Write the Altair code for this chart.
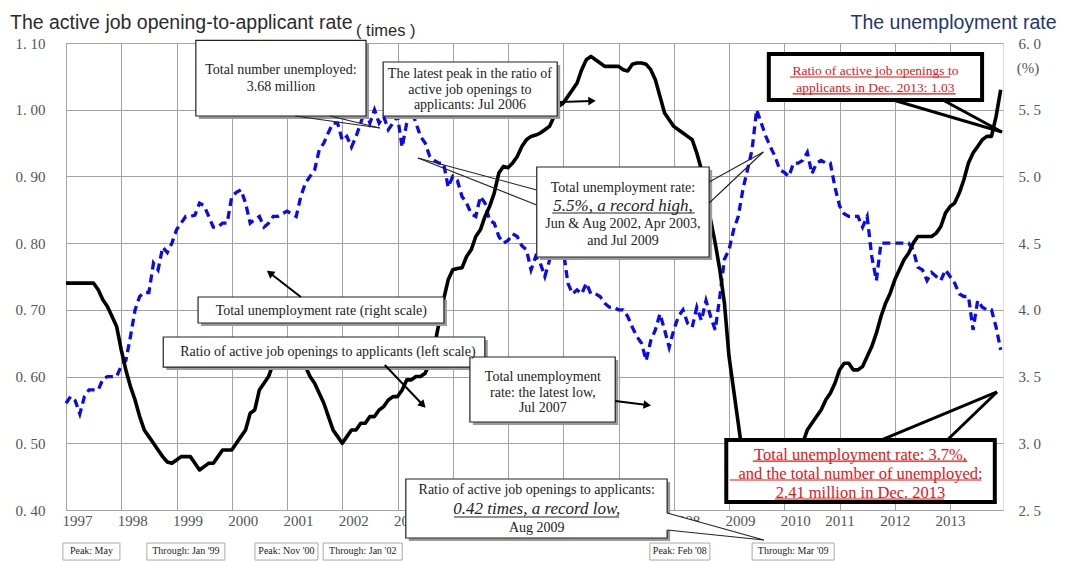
import math
import altair as alt
import pandas as pd

# ---------------- data (monthly, Jan 1997 - Dec 2013) ----------------
years = list(range(1997, 2014))

# active job opening-to-applicant ratio (left scale, times)
ratio = [
    0.74, 0.74, 0.74, 0.74, 0.74, 0.74, 0.74, 0.73, 0.715, 0.705, 0.69, 0.675,      # 1997
    0.64, 0.61, 0.585, 0.565, 0.54, 0.52, 0.51, 0.50, 0.49, 0.48, 0.472, 0.47,      # 1998
    0.475, 0.48, 0.48, 0.48, 0.47, 0.46, 0.465, 0.47, 0.47, 0.48, 0.49, 0.49,       # 1999
    0.49, 0.50, 0.51, 0.52, 0.545, 0.55, 0.58, 0.59, 0.60, 0.62, 0.64, 0.65,        # 2000
    0.65, 0.65, 0.64, 0.63, 0.615, 0.60, 0.59, 0.575, 0.56, 0.54, 0.52, 0.51,       # 2001
    0.50, 0.51, 0.52, 0.52, 0.53, 0.53, 0.54, 0.54, 0.55, 0.555, 0.565, 0.57,       # 2002
    0.57, 0.58, 0.595, 0.595, 0.60, 0.60, 0.605, 0.62, 0.645, 0.68, 0.715, 0.745,   # 2003
    0.76, 0.762, 0.763, 0.78, 0.79, 0.81, 0.82, 0.84, 0.855, 0.875, 0.905, 0.915,   # 2004
    0.913, 0.92, 0.93, 0.945, 0.955, 0.96, 0.962, 0.965, 0.97, 0.975, 0.99, 1.005,  # 2005
    1.01, 1.02, 1.03, 1.04, 1.06, 1.075, 1.08, 1.075, 1.07, 1.065, 1.065, 1.065,    # 2006
    1.065, 1.06, 1.058, 1.068, 1.07, 1.07, 1.068, 1.06, 1.045, 1.02, 0.995, 0.985,  # 2007
    0.975, 0.97, 0.965, 0.96, 0.955, 0.935, 0.91, 0.86, 0.835, 0.80, 0.76, 0.71,    # 2008
    0.63, 0.58, 0.53, 0.48, 0.45, 0.43, 0.425, 0.42, 0.425, 0.43, 0.44, 0.45,       # 2009
    0.46, 0.47, 0.48, 0.49, 0.50, 0.52, 0.53, 0.54, 0.55, 0.565, 0.575, 0.59,       # 2010
    0.61, 0.62, 0.62, 0.61, 0.61, 0.615, 0.63, 0.645, 0.665, 0.69, 0.71, 0.725,     # 2011
    0.745, 0.76, 0.775, 0.785, 0.80, 0.81, 0.81, 0.81, 0.81, 0.815, 0.825, 0.845,   # 2012
    0.855, 0.86, 0.875, 0.895, 0.92, 0.935, 0.945, 0.955, 0.96, 0.96, 0.99, 1.03,   # 2013
]

# total unemployment rate (right scale, %)
unemp = [
    3.3, 3.35, 3.32, 3.22, 3.35, 3.4, 3.4, 3.4, 3.48, 3.5, 3.5, 3.5,                # 1997
    3.58, 3.62, 3.8, 4.0, 4.1, 4.13, 4.13, 4.35, 4.3, 4.47, 4.43, 4.5,              # 1998
    4.6, 4.65, 4.7, 4.7, 4.71, 4.8, 4.78, 4.7, 4.62, 4.62, 4.65, 4.65,              # 1999
    4.85, 4.88, 4.9, 4.8, 4.65, 4.68, 4.7, 4.62, 4.65, 4.7, 4.7, 4.72,              # 2000
    4.74, 4.72, 4.7, 4.85, 4.95, 5.0, 5.05, 5.2, 5.25, 5.33, 5.4, 5.4,              # 2001
    5.27, 5.3, 5.22, 5.3, 5.4, 5.5, 5.4, 5.5, 5.4, 5.45, 5.35, 5.4,                 # 2002
    5.45, 5.22, 5.4, 5.5, 5.4, 5.3, 5.25, 5.15, 5.12, 5.1, 5.1, 4.92,               # 2003
    5.0, 4.97, 4.85, 4.8, 4.72, 4.7, 4.85, 4.8, 4.67, 4.65, 4.55, 4.5,              # 2004
    4.52, 4.57, 4.55, 4.48, 4.45, 4.3, 4.4, 4.35, 4.25, 4.37, 4.5, 4.4,             # 2005
    4.45, 4.2, 4.12, 4.15, 4.12, 4.2, 4.12, 4.12, 4.1, 4.05, 4.02, 4.02,            # 2006
    4.0, 4.0, 3.95, 3.87, 3.8, 3.75, 3.62, 3.77, 3.85, 3.97, 3.85, 3.72,            # 2007
    3.85, 3.95, 4.0, 3.9, 3.87, 4.02, 3.92, 4.07, 3.95, 3.85, 4.1, 4.38,            # 2008
    4.45, 4.6, 4.7, 4.9, 5.05, 5.2, 5.5, 5.4, 5.3, 5.22, 5.15, 5.05,                # 2009
    5.03, 5.0, 5.1, 5.1, 5.12, 5.18, 5.02, 5.1, 5.12, 5.1, 5.1, 4.92,               # 2010
    4.78, 4.72, 4.7, 4.7, 4.7, 4.62, 4.7, 4.4, 4.22, 4.5, 4.5, 4.5,                 # 2011
    4.5, 4.5, 4.5, 4.5, 4.45, 4.32, 4.3, 4.22, 4.28, 4.25, 4.22, 4.3,               # 2012
    4.25, 4.2, 4.12, 4.1, 4.1, 3.85, 4.07, 4.02, 4.0, 4.0, 3.87, 3.7,               # 2013
]

left_ticks = [0.4, 0.5, 0.6, 0.7, 0.8, 0.9, 1.0, 1.1]
right_ticks = [2.5, 3.0, 3.5, 4.0, 4.5, 5.0, 5.5, 6.0]

bottom_labels = ["Peak: May", "Through: Jan '99", "Peak: Nov '00",
                 "Through: Jan '02", "Peak: Feb '08", "Through: Mar '09"]

assert len(ratio) == len(unemp) == 204

# ---------------- layout / styles ----------------
W, H = 937, 467
X_END = 1997 + 203.5 / 12
PXT = W / (X_END - 1997)   # px per year
PXR = H / 0.7              # px per ratio unit

SERIF = "Liberation Serif"
SANS = "Liberation Sans"
GRID = "#a3a3a3"
LAB = "#555555"
RED = "#e01515"
BLUE = "#0a0af0"

t_vals = [1997 + i / 12 for i in range(len(ratio))]
df = pd.DataFrame({"t": t_vals, "r": ratio, "u": unemp})

xs = alt.Scale(domain=[1997, X_END], nice=False, zero=False)
yl = alt.Scale(domain=[0.4, 1.1], nice=False, zero=False)
yr = alt.Scale(domain=[2.5, 6.0], nice=False, zero=False)

# year labels 2004-2007 sit under the "record low" box in the reference (fully hidden)
x_axis = alt.Axis(
    values=years,
    labelExpr="(datum.value >= 2004 && datum.value <= 2007) ? '' : format(datum.value, 'd')",
    grid=True, gridColor=GRID, gridWidth=1,
    ticks=False, domain=False, labelFont=SERIF, labelFontSize=15,
    labelColor=LAB, labelPadding=3, labelFlush=False,
    labelAlign={"condition": {"test": "datum.value >= 2011", "value": "center"}, "value": "left"},
    labelOffset={"condition": {"test": "datum.value >= 2011", "value": 0}, "value": -4},
    title=None,
)
yl_axis = alt.Axis(
    values=left_ticks, labelExpr="replace(format(datum.value, '.2f'), '.', '. ')",
    grid=True, gridColor=GRID, gridWidth=1, ticks=False, domain=False,
    labelFont=SERIF, labelFontSize=15, labelColor=LAB, labelPadding=21, title=None,
)
yr_axis = alt.Axis(
    orient="right", values=right_ticks,
    labelExpr="replace(format(datum.value, '.1f'), '.', '. ')",
    grid=False, ticks=False, domain=False, labelFont=SERIF, labelFontSize=15,
    labelColor=LAB, labelPadding=15, labelAlign="left", title=None,
)


def X(f):
    return alt.X(f"{f}:Q", scale=xs, axis=x_axis)


def YL(f):
    return alt.Y(f"{f}:Q", scale=yl, axis=yl_axis)


def rects(rows, **kw):
    d = pd.DataFrame(rows, columns=["x1", "x2", "y1", "y2"])
    return alt.Chart(d).mark_rect(**kw).encode(
        x=X("x1"), x2=alt.X2("x2"), y=YL("y1"), y2=alt.Y2("y2"))


def texts(rows, **kw):
    d = pd.DataFrame(rows, columns=["t", "r", "txt"])
    base = dict(font=SERIF, align="center", baseline="middle")
    base.update(kw)
    return alt.Chart(d).mark_text(**base).encode(x=X("t"), y=YL("r"), text="txt:N")


def segs(rows, **kw):
    d = pd.DataFrame(rows, columns=["t1", "r1", "t2", "r2"])
    return alt.Chart(d).mark_rule(**kw).encode(
        x=X("t1"), x2=alt.X2("t2"), y=YL("r1"), y2=alt.Y2("r2"))


def heads(rows, size=75):
    out = []
    for t1, r1, t2, r2 in rows:
        dx = (t2 - t1) * PXT
        dy = -(r2 - r1) * PXR
        ang = math.degrees(math.atan2(dy, dx)) % 360
        out.append((t2, r2, ang))
    d = pd.DataFrame(out, columns=["t", "r", "ang"])
    return alt.Chart(d).mark_point(shape="triangle-right", filled=True, size=size,
                                   opacity=1, color="black", strokeWidth=0).encode(
        x=X("t"), y=YL("r"), angle=alt.Angle("ang:Q", scale=None))


def label(txt, x, y, **kw):
    return alt.Chart(pd.DataFrame({"k": [0]})).mark_text(text=txt, **kw).encode(
        x=alt.value(x), y=alt.value(y))


# ---------------- data marks ----------------
blue = alt.Chart(df).mark_line(color=BLUE, strokeWidth=3.3, strokeDash=[8, 5]).encode(
    x=X("t"), y=alt.Y("u:Q", scale=yr, axis=yr_axis))

black = alt.Chart(df).mark_line(color="black", strokeWidth=3.6, strokeJoin="round").encode(
    x=X("t"), y=YL("r"))

# ---------------- annotations (positioned in data units) ----------------
thin_boxes = [
    (1999.35, 2002.43, 1.104, 0.9906),   # total number unemployed
    (2002.74, 2005.89, 1.0715, 0.9906),  # latest peak
    (2005.52, 2008.64, 0.9141, 0.7792),  # record high
    (1999.39, 2003.84, 0.7193, 0.6803),  # right scale
    (1998.76, 2004.58, 0.6593, 0.6143),  # left scale
    (2004.31, 2006.94, 0.6293, 0.5319),  # latest low
    (2003.15, 2007.88, 0.4465, 0.3580),  # record low
]
thick_boxes = [
    (2009.72, 2013.58, 1.0835, 1.0146),
    (2008.95, 2013.81, 0.5049, 0.4120),
]
sb_c = [1997.46, 1999.17, 2000.99, 2002.37, 2008.11, 2010.16]
sb_hw = [0.516, 0.706, 0.570, 0.715, 0.543, 0.742]
small_boxes = [(c - h, c + h, 0.3505, 0.3250) for c, h in zip(sb_c, sb_hw)]

shadow = rects(thin_boxes, fill="#9a9a9a", xOffset=3, x2Offset=3, yOffset=3, y2Offset=3)
boxes = rects(thin_boxes, fill="white", stroke="#222222", strokeWidth=1.2)
tboxes = rects(thick_boxes, fill="white", stroke="black", strokeWidth=4)
sboxes = rects(small_boxes, fill="white", stroke="#aaaaaa", strokeWidth=1)

# white callout wedge of the "record low" box (hides the 2008 year label like the reference)
wedge_fill = alt.Chart(pd.DataFrame({
    "t": [2007.86, 2009.63], "ya": [0.3955, 0.3550], "yb": [0.3700, 0.3550]})
).mark_area(color="white", opacity=1).encode(x=X("t"), y=YL("ya"), y2=alt.Y2("yb"))

normal_txt = texts([
    (2000.89, 1.060, "Total number unemployed:"),
    (2000.89, 1.034, "3.68 million"),
    (2004.31, 1.0535, "The latest peak in the ratio of"),
    (2004.31, 1.0296, "active job openings to"),
    (2004.31, 1.0071, "applicants: Jul 2006"),
    (2007.08, 0.8827, "Total unemployment rate:"),
    (2007.08, 0.8287, "Jun & Aug 2002, Apr 2003,"),
    (2007.08, 0.8032, "and Jul 2009"),
    (2001.62, 0.6983, "Total unemployment rate (right scale)"),
    (2001.74, 0.6368, "Ratio of active job openings to applicants (left scale)"),
    (2005.63, 0.5994, "Total unemployment"),
    (2005.63, 0.5754, "rate:  the latest low,"),
    (2005.63, 0.5529, "Jul 2007"),
    (2005.52, 0.4300, "Ratio of active job openings to applicants:"),
    (2005.52, 0.3730, "Aug 2009"),
], fontSize=14, color="#222222")

italic_txt = texts([
    (2007.08, 0.8557, "5.5%,  a record high,"),
    (2005.52, 0.4015, "0.42 times, a record low,"),
], fontSize=17, fontStyle="italic", color="#222222")

red_small = texts([
    (2011.65, 1.0580, "Ratio of active job openings to"),
    (2011.65, 1.0325, "applicants in Dec. 2013: 1.03"),
], fontSize=13.5, color=RED)

red_big = texts([
    (2011.38, 0.4824, "Total unemployment rate: 3.7%,"),
    (2011.38, 0.4540, "and the total number of unemployed:"),
    (2011.38, 0.4255, "2.41 million in Dec. 2013"),
], fontSize=16.5, color=RED)

small_txt = texts([(c, 0.3385, s) for c, s in zip(sb_c, bottom_labels)],
                  fontSize=10, color="#222222")

ul_black = segs([
    (2005.80, 0.8452, 2008.38, 0.8452),
    (2004.02, 0.3895, 2007.01, 0.3895),
], color="#222222", strokeWidth=1.2)
ul_red = segs([
    (2010.10, 1.0490, 2013.00, 1.0490),
    (2010.15, 1.0236, 2013.10, 1.0236),
    (2009.43, 0.4734, 2013.31, 0.4734),
    (2009.01, 0.4450, 2013.57, 0.4450),
    (2009.83, 0.4165, 2012.89, 0.4165),
], color=RED, strokeWidth=1.2)

thin_wedges = segs([
    (2001.15, 0.9906, 2002.68, 0.9726),
    (2001.78, 0.9906, 2002.68, 0.9726),
    (2005.52, 0.8797, 2003.37, 0.9276),
    (2005.52, 0.8572, 2003.37, 0.9276),
    (2008.64, 0.8916, 2009.62, 0.9366),
    (2008.64, 0.8602, 2009.62, 0.9366),
    (2007.88, 0.3955, 2009.63, 0.3550),
    (2007.88, 0.3700, 2009.63, 0.3550),
], color="#222222", strokeWidth=1.1)
thick_wedges = segs([
    (2011.97, 1.0146, 2013.94, 0.9666),
    (2012.87, 1.0146, 2013.94, 0.9666),
    (2011.75, 0.5049, 2013.85, 0.5769),
    (2012.95, 0.5049, 2013.85, 0.5769),
], color="black", strokeWidth=3)

arrow_rows = [
    (2005.94, 1.0116, 2006.52, 1.0131),
    (2001.25, 0.7193, 2000.69, 0.7553),
    (2002.77, 0.6173, 2003.46, 0.5574),
    (2006.94, 0.5634, 2007.52, 0.5574),
]
arrows = segs(arrow_rows, color="black", strokeWidth=2)
arrow_heads = heads(arrow_rows)

# ---------------- titles ----------------
t_left = label("The active job opening-to-applicant rate", -56, -14.5, align="left",
               baseline="alphabetic", font=SANS, fontSize=19.5, color="#2b2b2b")
t_times = label("( times )", 290, -7.5, align="left", baseline="alphabetic",
                font=SANS, fontSize=16.5, color="#2b2b2b")
t_right = label("The unemployment rate", 990.5, -14.5, align="right",
                baseline="alphabetic", font=SANS, fontSize=19.5, color="#26366a")
t_pct = label("(%)", 962, 25, align="center", baseline="middle",
              font=SERIF, fontSize=15, color=LAB)

inner = alt.layer(
    black, shadow, boxes, tboxes, sboxes, wedge_fill,
    normal_txt, italic_txt, red_small, red_big, small_txt,
    ul_black, ul_red, thin_wedges, thick_wedges, arrows, arrow_heads,
    t_left, t_times, t_right, t_pct,
)

chart = alt.layer(blue, inner).resolve_scale(y="independent").properties(
    width=W, height=H,
    autosize=alt.AutoSizeParams(type="none"),
    padding={"left": 58, "top": 35, "right": 54, "bottom": 51},
).configure_view(stroke="#333333", strokeWidth=1.2).configure(background="white")

chart.save("out.html", embed_options={"renderer": "svg", "actions": False})
